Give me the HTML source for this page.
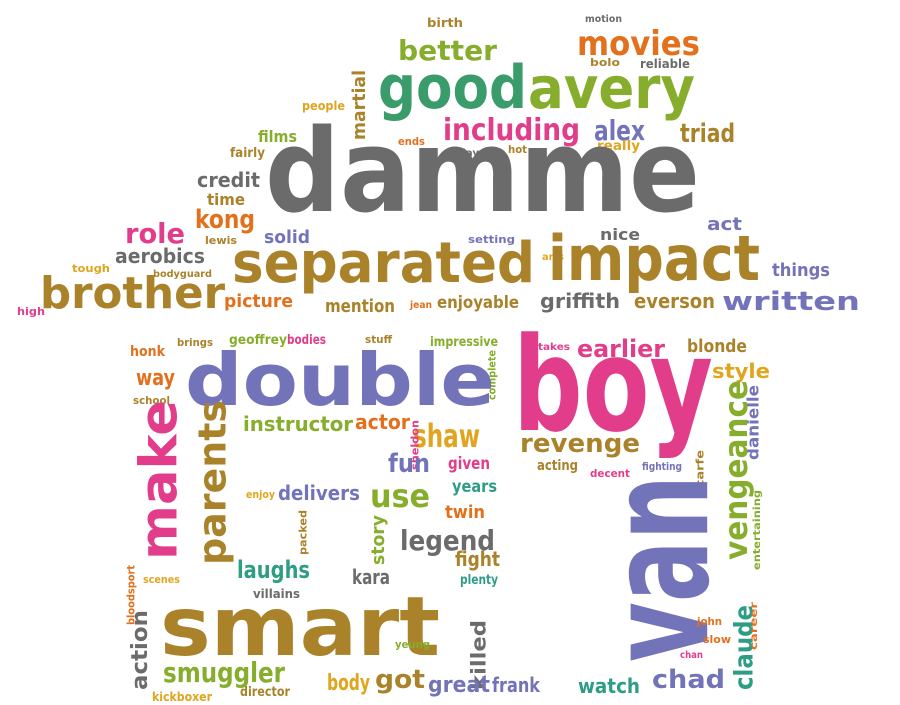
<!DOCTYPE html>
<html><head><meta charset="utf-8"><style>
html,body{margin:0;padding:0;background:#fff;width:900px;height:705px;overflow:hidden}
svg text{font-family:"DejaVu Sans","Liberation Sans",sans-serif;font-weight:bold}
</style></head><body>
<svg id="cloud" width="900" height="705" viewBox="0 0 900 705" xmlns="http://www.w3.org/2000/svg"></svg>
<script>
// colour palette keys
const C={g:"#6b6b6b",t:"#3a9c6a",l:"#86ad2c",p:"#e23d8b",u:"#7373b9",b:"#a9822a",o:"#e2701c",y:"#e0a51e",e:"#2d9d86"};
// words, font sizes, colour keys
const words=["birth","motion","movies","better","bolo","reliable","good","avery","martial","people","including","alex","triad","films","ends","plays","hot","sense","really","fairly","credit","time","damme","act","kong","role","lewis","solid","setting","nice","arts","aerobics","tough","bodyguard","separated","impact","things","brother","high","picture","mention","jean","enjoyable","griffith","everson","written",
"honk","brings","geoffrey","bodies","stuff","impressive","takes","earlier","blonde","complete","way","school","double","boy","style","danielle","make","parents","instructor","actor","shaw","revenge","vengeance","sheldon","fun","given","acting","decent","fighting","scarfe","years","use","enjoy","delivers","twin","entertaining","van","claude","packed","bloodsport","story","legend","fight","laughs","plenty","scenes","kara","villains","smart","action","john","killed","yeung","slow","career","chan","smuggler","director","body","got","great","frank","watch","chad","kickboxer"];
const sizes=[12,10,34,28,11,12,60,58,18,12,30,28,26,16,11,10,11,10,13,13,20,16,115,18,26,28,11,18,11,16,10,20,11,10,56,62,18,44,11,18,18,10,17,20,20,26,
14,11,13,13,11,13,10,24,18,11,22,11,72,130,20,16,52,38,20,20,32,26,32,11,26,17,14,11,11,11,17,32,11,20,18,10,140,26,11,11,18,28,20,24,13,11,20,12,82,22,11,20,11,11,10,10,28,13,22,26,22,20,20,26,12];
const cols=["b","g","o","l","b","g","t","l","b","y","p","u","b","l","o","g","b","e","y","b","g","b","g","u","o","p","b","u","u","g","y","g","y","b","b","b","u","b","p","o","b","o","b","g","b","u",
"o","b","l","p","b","l","p","p","b","l","o","b","u","p","y","u","p","b","l","o","y","b","l","p","u","p","b","p","u","b","e","l","y","u","o","l","u","e","b","o","l","g","b","e","e","y","g","g","b","g","o","g","l","o","o","p","l","b","y","b","u","u","e","u","y"];
// layout: [left x, baseline y, text length, rotation]
const L=[[427,27,36,0],[585,22,37,0],[577,55,123,0],[398,60,99,0],[590,66,30,0],[640,68,50,0],[378,108,149,0],[528,108,167,0],[351,140,70,-90],[302,110,43,0],[443,140,137,0],[594,140,51,0],[680,142,55,0],[258,142,39,0],[398,145,27,0],[455,156,30,0],[508,153,19,0],[535,160,32,0],[597,150,43,0],[230,157,35,0],[197,187,63,0],[207,205,38,0],[265,211,435,0],[707,230,35,0],[195,228,60,0],[125,243,60,0],[205,244,32,0],[264,243,46,0],[468,243,47,0],[600,240,40,0],[542,260,22,0],[115,263,90,0],[72,272,38,0],[153,277,59,0],[232,282,303,0],[548,280,212,0],[772,276,58,0],[40,308,185,0],[17,315,28,0],[224,307,69,0],[325,312,70,0],[410,308,22,0],[437,308,82,0],[540,308,80,0],[634,308,81,0],[722,310,138,0],
[130,356,35,0],[177,346,36,0],[229,344,58,0],[287,344,39,0],[365,343,27,0],[430,346,68,0],[538,350,32,0],[577,357,88,0],[687,352,60,0],[487,400,50,-90],[136,385,39,0],[133,404,37,0],[185,405,310,0],[513,430,200,0],[712,378,58,0],[746,460,75,-90],[136,560,160,-90],[196,565,165,-90],[243,431,110,0],[355,429,55,0],[413,447,67,0],[520,452,120,0],[722,560,180,-90],[410,470,50,-90],[388,472,42,0],[448,469,42,0],[537,470,41,0],[590,477,40,0],[642,470,40,0],[695,495,45,-90],[452,492,45,0],[370,507,60,0],[246,498,29,0],[278,500,82,0],[445,518,40,0],[752,570,80,-90],[598,662,187,-90],[732,690,85,-90],[298,555,45,-90],[126,625,60,-90],[370,565,50,-90],[400,550,95,0],[455,566,45,0],[237,578,73,0],[460,584,38,0],[143,583,37,0],[352,584,38,0],[253,598,47,0],[160,655,280,0],[130,690,80,-90],[697,625,25,0],[470,690,70,-90],[395,648,35,0],[703,643,28,0],[749,650,48,-90],[680,658,23,0],[163,682,122,0],[240,696,50,0],[327,690,43,0],[375,688,50,0],[428,692,62,0],[492,692,48,0],[578,693,62,0],[652,688,73,0],[152,701,60,0]];
const svg=document.getElementById('cloud');
const NS="http://www.w3.org/2000/svg";
for(let i=0;i<words.length;i++){
  const [x,y,w,r]=L[i]; const s=sizes[i];
  const t=document.createElementNS(NS,'text');
  t.textContent=words[i];
  t.setAttribute('font-size',s);
  t.setAttribute('fill',C[cols[i]]||"#6b6b6b");
  t.setAttribute('textLength',w);
  t.setAttribute('lengthAdjust','spacingAndGlyphs');
  if(r===-90){t.setAttribute('transform','translate('+(x+0.78*s)+','+y+') rotate(-90)');}
  else if(r===90){t.setAttribute('transform','translate('+(x+0.22*s)+','+y+') rotate(90)');}
  else{t.setAttribute('x',x);t.setAttribute('y',y);}
  
  
  svg.appendChild(t);
}
</script>
</body></html>
